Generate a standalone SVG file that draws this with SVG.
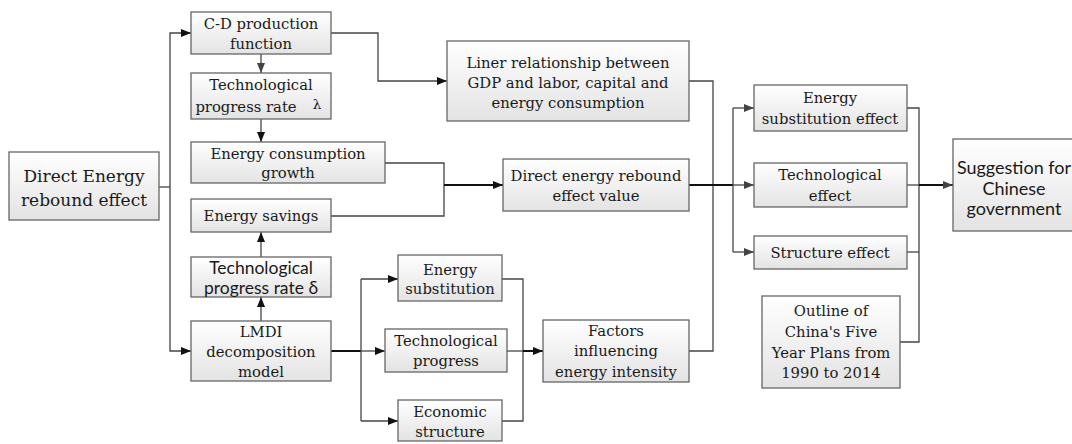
<svg xmlns="http://www.w3.org/2000/svg" width="1072" height="444" viewBox="0 0 1072 444">
<defs>
<linearGradient id="g" x1="0" y1="0" x2="0" y2="1">
<stop offset="0" stop-color="#ffffff"/>
<stop offset="1" stop-color="#e3e3e3"/>
</linearGradient>
<marker id="a" viewBox="0 0 10 8" refX="10" refY="4" markerWidth="10" markerHeight="8" markerUnits="userSpaceOnUse" orient="auto">
<path d="M0,0 L10,4 L0,8 z" fill="#111"/>
</marker>
<marker id="ag" viewBox="0 0 10 8" refX="10" refY="4" markerWidth="10" markerHeight="8" markerUnits="userSpaceOnUse" orient="auto">
<path d="M0,0 L10,4 L0,8 z" fill="#444"/>
</marker>
</defs>
<style>
rect.b{fill:url(#g);stroke:#666;stroke-width:1.3}
text{font-family:"DejaVu Serif","Liberation Serif",serif;font-size:14.8px;fill:#1a1a1a;text-anchor:middle;dominant-baseline:central}
text.sans{font-family:Lato,"Liberation Sans",sans-serif;font-size:18px}
text.big{font-size:17px}
.c path{fill:none;stroke:#444;stroke-width:1.3}
.c path.k{stroke:#111;stroke-width:2}
.c path.m{marker-end:url(#a)}
.c path.mg{marker-end:url(#ag)}
</style>
<rect width="1072" height="444" fill="#fff"/>
<g class="c" id="connectors">
<path d="M159,187 H170"/>
<path d="M170,187 V33 H191" class="m"/>
<path d="M170,187 V351 H191" class="m"/>
<path d="M261,54 V73" class="mg"/>
<path d="M261,119 V142" class="m"/>
<path d="M261,257 V232" class="m"/>
<path d="M261,321 V297" class="m"/>
<path d="M331,33 H378 V81 H447" class="m"/>
<path d="M385,163 H444 V216 H331"/>
<path d="M444,185 H503" class="k m"/>
<path d="M331,351 H361" class="k"/>
<path d="M361,351 H385" class="m"/>
<path d="M361,279 V421"/>
<path d="M361,279 H398" class="m"/>
<path d="M361,421 H398" class="m"/>
<path d="M502,279 H523 V421 H502"/>
<path d="M507,351 H523"/>
<path d="M523,351 H543" class="k m"/>
<path d="M689,81 H713 V351 H689"/>
<path d="M689,185 H733" class="k"/>
<path d="M733,108 V252"/>
<path d="M733,108 H754" class="mg"/>
<path d="M733,185 H754" class="mg"/>
<path d="M733,252 H754" class="mg"/>
<path d="M907,108 H919 V342 H900"/>
<path d="M907,252 H919"/>
<path d="M907,185 H919"/>
<path d="M919,185 H953" class="k mg"/>
</g>
<g id="direct"><rect class="b" x="9" y="152" width="150" height="68"/><text class="big"><tspan x="84" y="176">Direct Energy</tspan><tspan x="84" y="200">rebound effect</tspan></text></g>
<g id="cd"><rect class="b" x="191" y="12" width="140" height="42"/><text><tspan x="261" y="23">C-D production</tspan><tspan x="261" y="43">function</tspan></text></g>
<g id="lambda"><rect class="b" x="191" y="73" width="140" height="46"/><text><tspan x="261" y="84">Technological</tspan><tspan x="246" y="106">progress rate</tspan><tspan x="317" y="104" style="font-size:13.5px">λ</tspan></text></g>
<g id="growth"><rect class="b" x="191" y="142" width="194" height="41"/><text><tspan x="288" y="153">Energy consumption</tspan><tspan x="288" y="172">growth</tspan></text></g>
<g id="savings"><rect class="b" x="191" y="199" width="140" height="33"/><text x="261" y="215">Energy savings</text></g>
<g id="delta"><rect class="b" x="191" y="257" width="140" height="40"/><text class="sans" style="font-size:17.5px"><tspan x="261" y="267">Technological</tspan><tspan x="261" y="287">progress rate δ</tspan></text></g>
<g id="lmdi"><rect class="b" x="191" y="321" width="140" height="60"/><text><tspan x="261" y="331">LMDI</tspan><tspan x="261" y="351">decomposition</tspan><tspan x="261" y="371">model</tspan></text></g>
<g id="liner"><rect class="b" x="447" y="41" width="242" height="80"/><text><tspan x="568" y="62">Liner relationship between</tspan><tspan x="568" y="82">GDP and labor, capital and</tspan><tspan x="568" y="102">energy consumption</tspan></text></g>
<g id="rebound"><rect class="b" x="503" y="159" width="186" height="52"/><text><tspan x="596" y="175">Direct energy rebound</tspan><tspan x="596" y="195">effect value</tspan></text></g>
<g id="esub"><rect class="b" x="398" y="255" width="104" height="46"/><text><tspan x="450" y="269">Energy</tspan><tspan x="450" y="288">substitution</tspan></text></g>
<g id="tprog"><rect class="b" x="385" y="329" width="122" height="43"/><text><tspan x="446" y="340">Technological</tspan><tspan x="446" y="360">progress</tspan></text></g>
<g id="econ"><rect class="b" x="398" y="400" width="104" height="41"/><text><tspan x="450" y="411">Economic</tspan><tspan x="450" y="431">structure</tspan></text></g>
<g id="factors"><rect class="b" x="543" y="320" width="146" height="62"/><text><tspan x="616" y="330">Factors</tspan><tspan x="616" y="350">influencing</tspan><tspan x="616" y="371">energy intensity</tspan></text></g>
<g id="ese"><rect class="b" x="754" y="85" width="153" height="46"/><text><tspan x="830" y="97">Energy</tspan><tspan x="830" y="118">substitution effect</tspan></text></g>
<g id="teff"><rect class="b" x="754" y="163" width="153" height="44"/><text><tspan x="830" y="174">Technological</tspan><tspan x="830" y="195">effect</tspan></text></g>
<g id="seff"><rect class="b" x="754" y="236" width="153" height="33"/><text x="830" y="252">Structure effect</text></g>
<g id="outline"><rect class="b" x="762" y="296" width="138" height="92"/><text><tspan x="831" y="310">Outline of</tspan><tspan x="831" y="331">China's Five</tspan><tspan x="831" y="352">Year Plans from</tspan><tspan x="831" y="372">1990 to 2014</tspan></text></g>
<g id="suggestion"><rect class="b" x="953" y="139" width="125" height="92"/><text class="sans"><tspan x="1014" y="167">Suggestion for</tspan><tspan x="1014" y="188">Chinese</tspan><tspan x="1014" y="208">government</tspan></text></g>
</svg>
